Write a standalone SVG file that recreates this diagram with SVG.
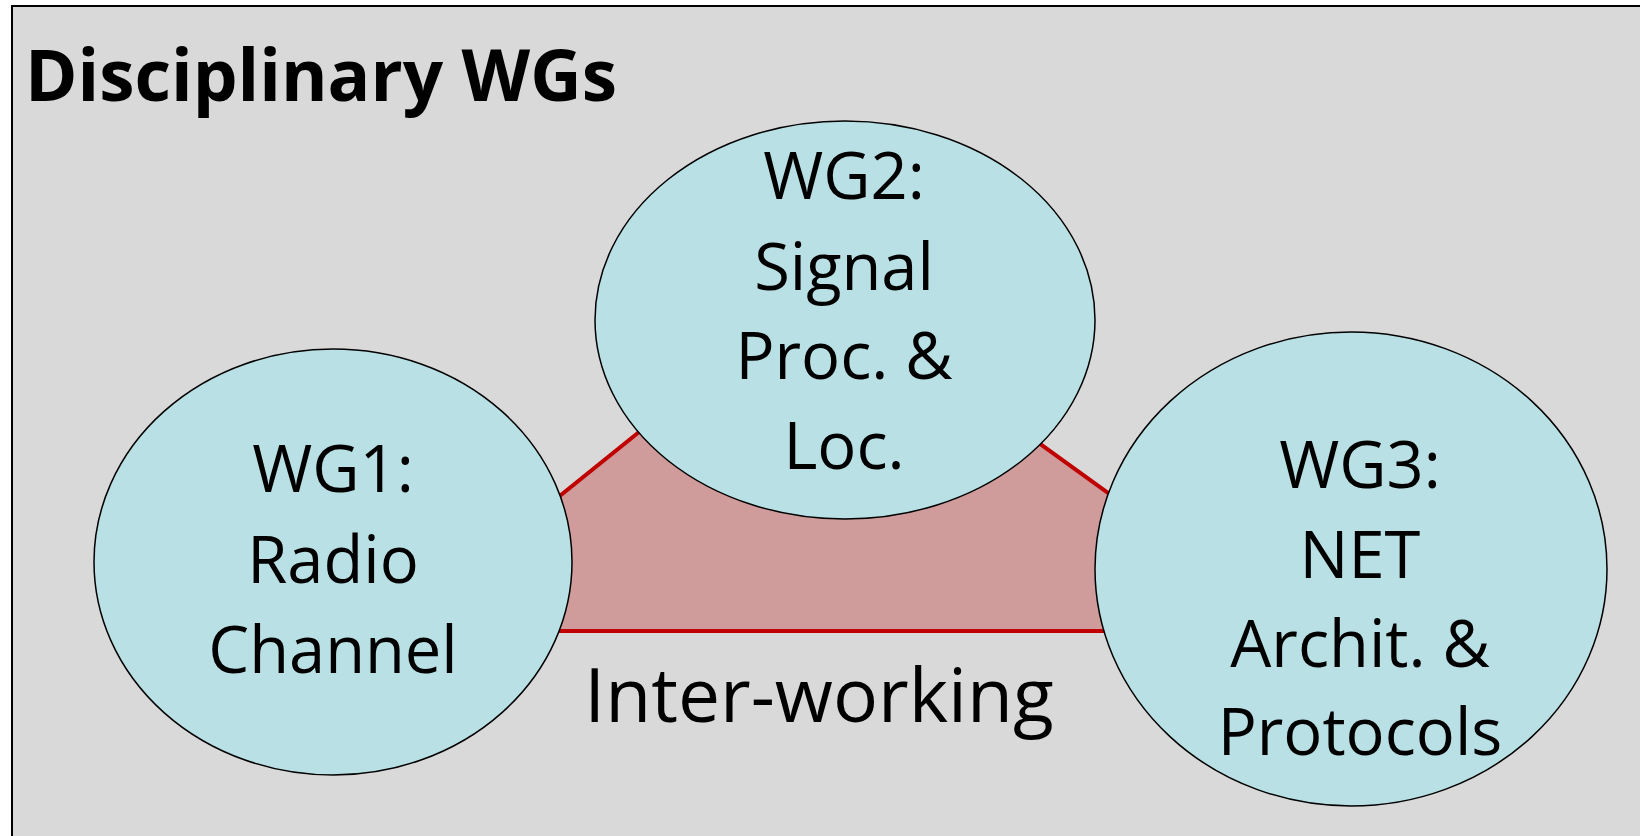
<svg xmlns="http://www.w3.org/2000/svg" width="1640" height="836" viewBox="0 0 1640 836">
<style>
.t{font-family:"Open Sans","Liberation Sans",sans-serif;fill:#000;text-anchor:middle}
.n{font-size:65px}
.wg{fill:#B9E0E4;stroke:#000;stroke-width:1.5}
</style>
<rect x="0" y="0" width="1640" height="836" fill="#FFFFFF"/>
<g id="frame">
<rect x="12" y="6" width="1640" height="840" fill="#D9D9D9" stroke="#000" stroke-width="2"/>
<text class="t" x="25" y="101" style="text-anchor:start;font-weight:bold;font-size:71px">Disciplinary WGs</text>
</g>
<g id="connectors">
<polygon points="680,399 520,528 520,631 1140,631 1140,516 1000,415" fill="#D09B9B" stroke="#C00000" stroke-width="4"/>
<text class="t" x="819" y="722" style="font-size:75px">Inter-working</text>
</g>
<g id="wg1">
<ellipse class="wg" cx="333" cy="562" rx="239" ry="213"/>
<text class="t n" x="333" y="492">WG1:</text>
<text class="t n" x="333" y="583">Radio</text>
<text class="t n" x="333" y="673">Channel</text>
</g>
<g id="wg2">
<ellipse class="wg" cx="845" cy="320" rx="250" ry="199"/>
<text class="t n" x="844" y="199">WG2:</text>
<text class="t n" x="844" y="290">Signal</text>
<text class="t n" x="844" y="379">Proc. &amp;</text>
<text class="t n" x="844" y="469">Loc.</text>
</g>
<g id="wg3">
<ellipse class="wg" cx="1351" cy="569" rx="256" ry="237"/>
<text class="t n" x="1360" y="488">WG3:</text>
<text class="t n" x="1360" y="578">NET</text>
<text class="t n" x="1360" y="667">Archit. &amp;</text>
<text class="t n" x="1360" y="755">Protocols</text>
</g>
</svg>
